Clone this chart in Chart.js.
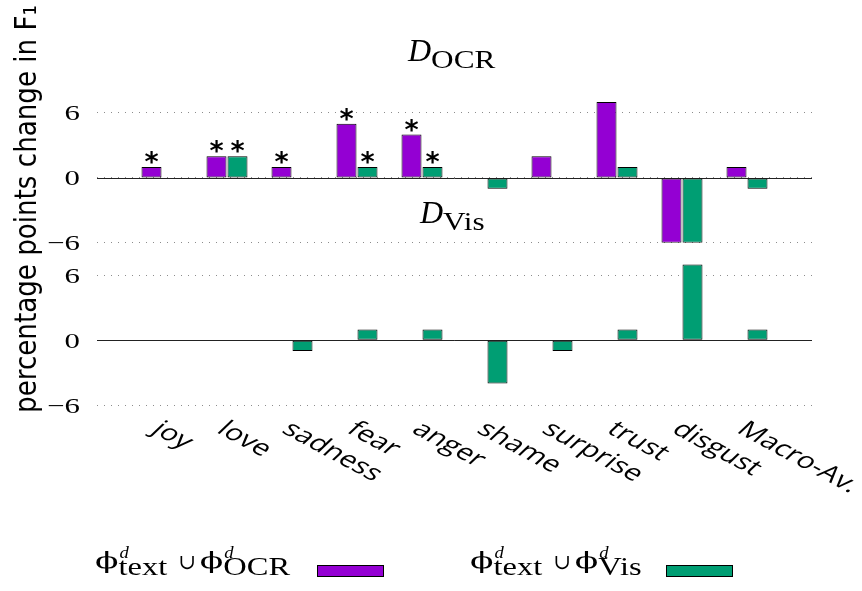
<!DOCTYPE html>
<html>
<head>
<meta charset="utf-8">
<script src="https://cdn.jsdelivr.net/npm/chart.js@4.4.1/dist/chart.umd.min.js"></script>
<style>
  html, body { margin: 0; padding: 0; background: #fff; }
</style>
</head>
<body>
<canvas id="chart" width="862" height="591"></canvas>
<script>
const categories = ['joy', 'love', 'sadness', 'fear', 'anger', 'shame', 'surprise', 'trust', 'disgust', 'Macro-Av.'];

// upper panel, D_OCR
const ocrPanelOcr = [1, 2, 1, 5, 4, 0, 2, 7, -6, 1];
const ocrPanelVis = [0, 2, 0, 1, 1, -1, 0, 1, -6, -1];
// lower panel, D_Vis
const visPanelOcr = [0, 0, 0, 0, 0, 0, 0, 0, 0, 0];
const visPanelVis = [0, 0, -1, 1, 1, -4, -1, 1, 7, 1];

// significance stars (upper panel only)
const starsOcr = [1, 1, 1, 1, 1, 0, 0, 0, 0, 0];
const starsVis = [0, 1, 0, 1, 1, 0, 0, 0, 0, 0];

const yTicks = [-6, 0, 6];

const PURPLE = '#9400d3';
const GREEN = '#009e73';
const K = 1.4; // the reference text is stretched sideways

// one empty slot on each side, like the x range [-1:10]
const xLabels = [''].concat(categories, ['']);
const pad = arr => [null].concat(arr, [null]);

function drawText(ctx, txt, x, y, font, align, k) {
  ctx.save();
  ctx.translate(x, y);
  ctx.scale(k, 1);
  ctx.font = font;
  ctx.textAlign = align || 'left';
  ctx.textBaseline = 'alphabetic';
  ctx.fillStyle = '#000';
  ctx.fillText(txt, 0, 0);
  const w = ctx.measureText(txt).width * k;
  ctx.restore();
  return w;
}

function phiTerm(ctx, x, sub) {
  const w = drawText(ctx, '\u03d5', x, 568, '23px "DejaVu Serif"', 'left', 1.5);
  drawText(ctx, 'd', x + w + 1, 558, 'italic 17px "Liberation Serif"', 'left', 1.1);
  const ws = drawText(ctx, sub, x + w, 575, '25px "Liberation Serif"', 'left', 1.3);
  return x + w + ws;
}

function legendEntry(ctx, x0, sub, swatchX, color) {
  let x = phiTerm(ctx, x0, 'text');
  x += 11;
  x += drawText(ctx, '\u222a', x, 569, '21px "DejaVu Serif"', 'left', 1);
  x += 4;
  phiTerm(ctx, x, sub);
  ctx.save();
  ctx.fillStyle = color;
  ctx.fillRect(swatchX, 565, 67, 12);
  ctx.strokeStyle = '#000';
  ctx.lineWidth = 1;
  ctx.strokeRect(swatchX + 0.5, 565.5, 66, 11);
  ctx.restore();
}

function panelTitle(ctx, x, base, sub) {
  const w = drawText(ctx, 'D', x, base, 'italic 32px "Liberation Serif"', 'left', 1);
  drawText(ctx, sub, x + w, base + 7, '25px "Liberation Serif"', 'left', 1.25);
}

const decor = {
  id: 'decor',
  beforeDatasetsDraw(chart) {
    const { ctx, chartArea } = chart;
    ['yOcr', 'yVis'].forEach(id => {
      const y = Math.round(chart.scales[id].getPixelForValue(0)) + 0.5;
      ctx.save();
      ctx.strokeStyle = '#222';
      ctx.lineWidth = 1;
      ctx.beginPath();
      ctx.moveTo(chartArea.left, y);
      ctx.lineTo(chartArea.right, y);
      ctx.stroke();
      ctx.restore();
    });
  },
  afterDraw(chart) {
    const ctx = chart.ctx;

    // y tick labels
    ['yOcr', 'yVis'].forEach(id => {
      const s = chart.scales[id];
      s.ticks.forEach(t => {
        const txt = t.value < 0 ? '\u2212' + Math.abs(t.value) : String(t.value);
        drawText(ctx, txt, 80, s.getPixelForValue(t.value) + 7.5, '22px "Liberation Serif"', 'right', K);
      });
    });

    // stars over significant bars
    [[0, starsOcr], [1, starsVis]].forEach(([di, stars]) => {
      const meta = chart.getDatasetMeta(di);
      stars.forEach((st, i) => {
        if (!st) return;
        const el = meta.data[i + 1];
        ctx.save();
        ctx.font = 'bold 27px "DejaVu Sans"';
        ctx.textAlign = 'center';
        ctx.textBaseline = 'alphabetic';
        const m = ctx.measureText('*');
        const cy = el.y - 9.5;
        ctx.fillStyle = '#000';
        ctx.fillText('*', el.x, cy + (m.actualBoundingBoxAscent - m.actualBoundingBoxDescent) / 2);
        ctx.restore();
      });
    });

    // rotated category labels
    const xs = chart.scales.x;
    const ang = 37 * Math.PI / 180;
    categories.forEach((c, i) => {
      const x = xs.getPixelForValue(i + 1);
      ctx.save();
      ctx.translate(x + 2, 419);
      ctx.scale(K, 1);
      ctx.rotate(ang);
      ctx.font = '22px "Open Sans"';
      ctx.textAlign = 'left';
      ctx.textBaseline = 'alphabetic';
      ctx.fillStyle = '#000';
      ctx.fillText(c, 0, 16);
      ctx.restore();
    });

    // y axis title
    const title = 'percentage points change in F\u2081';
    ctx.save();
    ctx.font = '26px "DejaVu Sans"';
    const fs = 26 * 408 / ctx.measureText(title).width;
    ctx.translate(36, 209);
    ctx.scale(1.15, 1);
    ctx.rotate(-Math.PI / 2);
    ctx.font = fs.toFixed(2) + 'px "DejaVu Sans"';
    ctx.textAlign = 'center';
    ctx.textBaseline = 'alphabetic';
    ctx.fillStyle = '#000';
    ctx.fillText(title, 0, 0);
    ctx.restore();

    panelTitle(ctx, 408, 61, 'OCR');
    panelTitle(ctx, 420, 223, 'Vis');

    legendEntry(ctx, 95, 'OCR', 317, PURPLE);
    legendEntry(ctx, 470, 'Vis', 666, GREEN);
  }
};

function panelAxis(min, max, weight) {
  return {
    type: 'linear',
    position: 'left',
    stack: 'panels',
    stackWeight: weight,
    stacked: false,
    min: min,
    max: max,
    afterBuildTicks: s => { s.ticks = yTicks.map(v => ({ value: v })); },
    afterFit: s => { s.width = 97; },
    ticks: { display: false },
    grid: { drawTicks: false, color: '#8c8c8c', lineWidth: 1 },
    border: { display: false, dash: [1, 6] }
  };
}

function barSet(label, data, axis, stack, color) {
  return {
    label: label,
    data: pad(data),
    yAxisID: axis,
    stack: stack,
    backgroundColor: color,
    borderColor: '#000',
    borderWidth: 1,
    borderSkipped: false,
    categoryPercentage: 0.646,
    barPercentage: 0.952
  };
}

new Chart(document.getElementById('chart'), {
  type: 'bar',
  data: {
    labels: xLabels,
    datasets: [
      barSet('text+OCR', ocrPanelOcr, 'yOcr', 'ocr', PURPLE),
      barSet('text+Vis', ocrPanelVis, 'yOcr', 'vis', GREEN),
      barSet('text+OCR', visPanelOcr, 'yVis', 'ocr', PURPLE),
      barSet('text+Vis', visPanelVis, 'yVis', 'vis', GREEN)
    ]
  },
  options: {
    responsive: false,
    animation: false,
    devicePixelRatio: 1,
    layout: { padding: { left: 0, top: 48, right: 50, bottom: 175 } },
    plugins: { legend: { display: false }, tooltip: { enabled: false } },
    scales: {
      x: { type: 'category', offset: false, display: false },
      yVis: panelAxis(-7, 9, 16),
      yOcr: panelAxis(-6, 12, 18)
    }
  },
  plugins: [decor]
});
</script>
</body>
</html>
